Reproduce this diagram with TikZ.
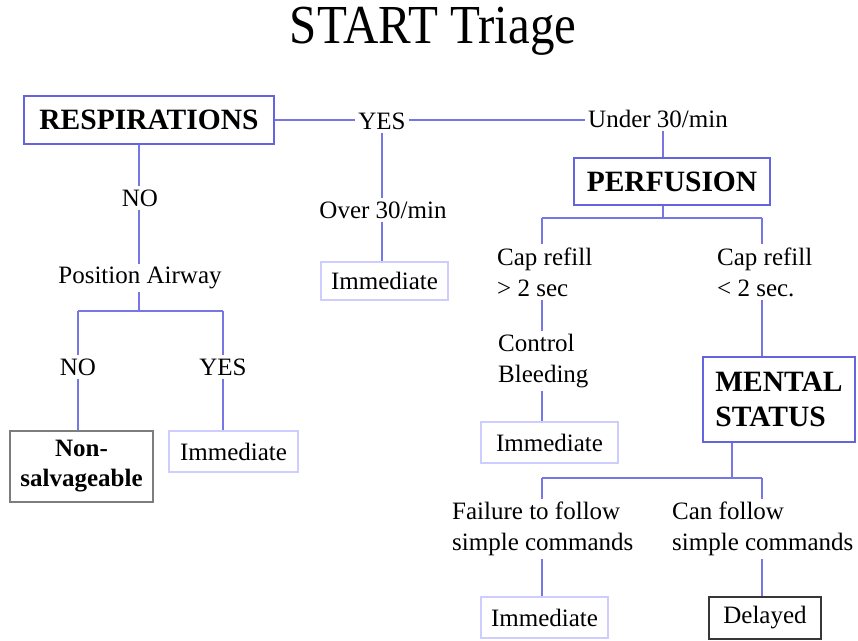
\documentclass[tikz,border=0pt]{standalone}
\usepackage{fontspec}
\usepackage{graphicx}
\setmainfont{Liberation Serif}
\definecolor{lineblue}{RGB}{118,118,228}
\definecolor{boxblue}{RGB}{100,100,225}
\definecolor{lightbox}{RGB}{205,205,255}
\definecolor{graybox}{RGB}{125,125,125}
\definecolor{darkbox}{RGB}{55,55,55}
\begin{document}
\begin{tikzpicture}[x=1pt,y=-1pt,
  conn/.style={draw=lineblue,line width=1.7pt},
  headbox/.style={draw=boxblue,line width=1.5pt,inner sep=0pt,font=\fontsize{29.5}{35}\selectfont\bfseries},
  leafbox/.style={draw=lightbox,line width=1.5pt,inner sep=0pt,font=\fontsize{25}{30}\selectfont},
  lbl/.style={inner sep=3pt,font=\fontsize{25}{31}\selectfont},
  lbltwo/.style={inner sep=3pt,align=left,anchor=west,font=\fontsize{25}{31}\selectfont}]
\useasboundingbox (0,0) rectangle (858,640);
\node[font=\fontsize{55}{60}\selectfont,inner sep=0pt] (title) at (433,31) {\scalebox{0.89}[1]{START Triage}};

% boxes
\node[headbox,minimum width=250pt,minimum height=48pt] (resp) at (149,120) {RESPIRATIONS};
\node[leafbox,minimum width=127pt,minimum height=38pt] (imm1) at (384.5,281) {Immediate};
\node[draw=graybox,line width=1.5pt,inner sep=0pt,minimum width=143pt,minimum height=71pt,align=center,font=\fontsize{25}{30}\selectfont\bfseries] (nonsalv) at (81.5,466.5) {Non-\\salvageable};
\node[leafbox,minimum width=129pt,minimum height=41pt] (imm2) at (233.5,451.5) {Immediate};
\node[headbox,minimum width=196pt,minimum height=47pt] (perf) at (672,181.5) {PERFUSION};
\node[leafbox,minimum width=137pt,minimum height=41pt] (imm3) at (549.5,442.5) {Immediate};
\node[headbox,minimum width=152pt,minimum height=85pt,align=left] (mental) at (779,399.5) {MENTAL\\STATUS};
\node[leafbox,minimum width=127pt,minimum height=41pt] (imm4) at (544.5,617.5) {Immediate};
\node[draw=darkbox,line width=1.5pt,inner sep=0pt,minimum width=112pt,minimum height=42pt,font=\fontsize{25}{30}\selectfont] (delayed) at (765,618) {Delayed};

% labels
\node[lbl] (yes1) at (382,121) {YES};
\node[lbl] (under) at (658,119) {Under 30/min};
\node[lbl] (over) at (383,210) {Over 30/min};
\node[lbl] (no1) at (140,198) {NO};
\node[lbl] (posair) at (140,278) {Position Airway};
\node[lbl] (no2) at (78,367) {NO};
\node[lbl] (yes2) at (223,367) {YES};
\node[lbltwo] (cap1) at (494,272) {Cap refill\\> 2 sec};
\node[lbltwo] (cap2) at (714,272) {Cap refill\\< 2 sec.};
\node[lbltwo] (ctrl) at (495,361) {Control\\Bleeding};
\node[lbltwo] (fail) at (449,529) {Failure to follow\\simple commands};
\node[lbltwo] (can) at (669,529) {Can follow\\simple commands};

% junction coordinates
\coordinate (pa) at (139,311);
\coordinate (pal) at (78,311);
\coordinate (par) at (223,311);
\coordinate (pb) at (663,218);
\coordinate (pl) at (542,218);
\coordinate (pr) at (762,218);
\coordinate (mb) at (732,478);
\coordinate (ml) at (542,478);
\coordinate (mr) at (762,478);

% connectors
\draw[conn] (resp.east) -- (yes1.west |- resp.east);
\draw[conn] (yes1.east |- resp.east) -- (under.west |- resp.east);
\draw[conn] (yes1.south) -- (yes1.south |- over.north);
\draw[conn] (yes1.south |- over.south) -- (yes1.south |- imm1.north);
\draw[conn] (pa |- resp.south) -- (pa |- no1.north);
\draw[conn] (pa |- no1.south) -- (pa |- posair.north);
\draw[conn] (pa |- posair.south) -- (pa);
\draw[conn] (pal) -- (par);
\draw[conn] (pal) -- (pal |- no2.north);
\draw[conn] (pal |- no2.south) -- (pal |- nonsalv.north);
\draw[conn] (par) -- (par |- yes2.north);
\draw[conn] (par |- yes2.south) -- (par |- imm2.north);
\draw[conn] (pb |- under.south) -- (pb |- perf.north);
\draw[conn] (pb |- perf.south) -- (pb);
\draw[conn] (pl) -- (pr);
\draw[conn] (pl) -- (pl |- cap1.north);
\draw[conn] (pr) -- (pr |- cap2.north);
\draw[conn] (pl |- cap1.south) -- (pl |- ctrl.north);
\draw[conn] (pl |- ctrl.south) -- (pl |- imm3.north);
\draw[conn] (pr |- cap2.south) -- (pr |- mental.north);
\draw[conn] (mb |- mental.south) -- (mb);
\draw[conn] (ml) -- (mr);
\draw[conn] (ml) -- (ml |- fail.north);
\draw[conn] (mr) -- (mr |- can.north);
\draw[conn] (ml |- fail.south) -- (ml |- imm4.north);
\draw[conn] (mr |- can.south) -- (mr |- delayed.north);
\end{tikzpicture}
\end{document}
